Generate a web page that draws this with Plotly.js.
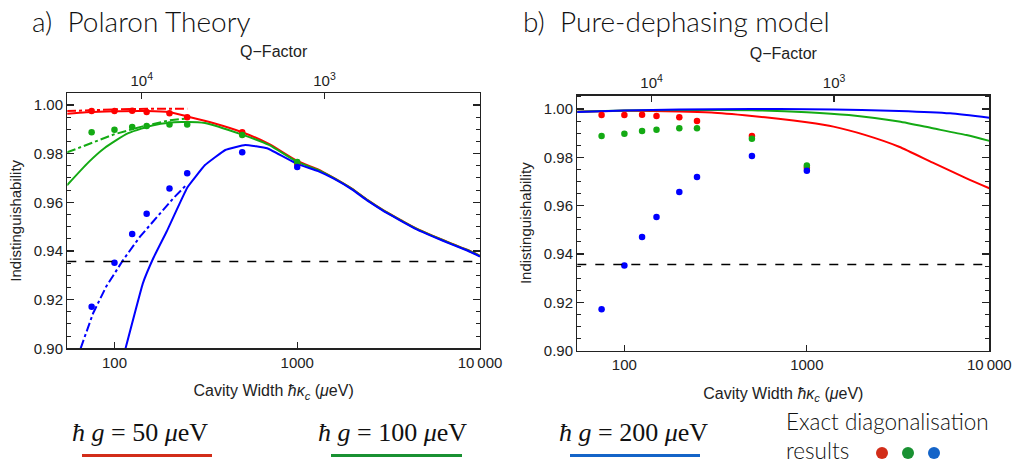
<!DOCTYPE html>
<html><head><meta charset="utf-8">
<script src="https://cdn.plot.ly/plotly-3.0.1.min.js"></script>
<style>html,body{margin:0;padding:0;background:#fff}#chart{width:1017px;height:465px}</style>
</head><body><div id="chart"></div>
<script>
// ---------- data ----------
const photonEnergy = 1.41e6;       // µeV ; Q = E / ħκ
const kappaMin = 55.2, kappaMax = 10000;
const threshold = 0.9357;

// exact diagonalisation results (both panels)
const exactKappa = [75, 100, 125, 150, 200, 250, 500, 1000];
const exact50  = [0.9975, 0.9975, 0.9976, 0.9971, 0.9966, 0.9950, 0.9888, 0.9757];
const exact100 = [0.9888, 0.9898, 0.9909, 0.9914, 0.9920, 0.9920, 0.9877, 0.9766];
const exact200 = [0.9171, 0.9352, 0.9470, 0.9553, 0.9657, 0.9719, 0.9806, 0.9745];

// a) polaron theory, solid
const polKappa50  = [55, 70, 100, 150, 200, 250, 350, 500, 700, 1000, 1300, 1585, 2000, 2420, 3000, 3690, 4500, 5620, 7000, 8570, 10000];
const pol50       = [0.9964, 0.9970, 0.9974, 0.9975, 0.9970, 0.9953, 0.9925, 0.9888, 0.9840, 0.9770, 0.9735, 0.9700, 0.9655, 0.9610, 0.9565, 0.9527, 0.9492, 0.9460, 0.9430, 0.9404, 0.9380];
const polKappa100 = [55, 72, 88, 119, 166, 233, 313, 500, 700, 1000, 1300, 1585, 2000, 2420, 3000, 3690, 4500, 5620, 7000, 8570, 10000];
const pol100      = [0.9670, 0.9764, 0.9822, 0.9884, 0.9918, 0.9930, 0.9926, 0.9878, 0.9836, 0.9766, 0.9733, 0.9699, 0.9654, 0.9609, 0.9564, 0.9526, 0.9491, 0.9459, 0.9429, 0.9403, 0.9379];
const polKappa200 = [115, 143, 163, 193, 250, 313, 404, 519, 684, 1000, 1300, 1585, 2000, 2420, 3000, 3690, 4500, 5620, 7000, 8570, 10000];
const pol200      = [0.9000, 0.9267, 0.9370, 0.9480, 0.9660, 0.9753, 0.9815, 0.9836, 0.9822, 0.9758, 0.9728, 0.9697, 0.9652, 0.9607, 0.9562, 0.9524, 0.9489, 0.9457, 0.9427, 0.9401, 0.9377];

// a) polaron theory, dash-dot (low-width branch)
const ddKappa50  = [55, 70, 100, 150, 200, 250];
const dd50       = [0.9975, 0.9979, 0.9982, 0.9984, 0.9984, 0.9984];
const ddKappa100 = [55, 72, 100, 141, 197, 250];
const dd100      = [0.9805, 0.9838, 0.9880, 0.9911, 0.9936, 0.9945];
const ddKappa200 = [65.3, 76.4, 90, 111.5, 138, 177, 210, 250];
const dd200      = [0.9000, 0.9144, 0.9253, 0.9363, 0.9459, 0.9555, 0.9617, 0.9675];

// b) pure-dephasing model
const pdKappa50  = [55, 100, 200, 300, 500, 700, 1000, 1400, 2100, 3200, 4900, 7500, 10000];
const pd50       = [0.9989, 0.9993, 0.9990, 0.9985, 0.9971, 0.9960, 0.9945, 0.9927, 0.9892, 0.9844, 0.9778, 0.9713, 0.9672];
const pdKappa100 = [55, 100, 200, 500, 1000, 1700, 3200, 4900, 7500, 10000];
const pd100      = [0.9989, 0.9994, 0.9996, 0.9995, 0.9987, 0.9975, 0.9948, 0.9920, 0.9892, 0.9868];
const pdKappa200 = [55, 100, 200, 500, 1000, 2000, 3200, 6100, 10000];
const pd200      = [0.9988, 0.9994, 0.9998, 1.0000, 0.9999, 0.9996, 0.9992, 0.9982, 0.9964];

const xTickVals = [100, 1000, 10000];
const xTickText = ['100', '1000', '10\u2009000'];
const qTickVals = [1e4, 1e3];
const qTickText = ['10<sup>4</sup>', '10<sup>3</sup>'];
const yTickVals = [0.90, 0.92, 0.94, 0.96, 0.98, 1.00];
const legendLabels = ['<i>ħ g</i> = 50 <i>μ</i>eV', '<i>ħ g</i> = 100 <i>μ</i>eV', '<i>ħ g</i> = 200 <i>μ</i>eV'];

// ---------- style ----------
const RED = 'rgb(255,0,0)', GREEN = 'rgb(20,170,20)', BLUE = 'rgb(0,0,255)';
const LRED = 'rgb(210,45,25)', LGREEN = 'rgb(25,145,50)', LBLUE = 'rgb(20,100,200)';
const W = 1017, H = 465;
const px = v => v / W, py = v => 1 - v / H;

function line(x, y, color, ax, ay, dash, shape, smoothing) {
  return {x, y, xaxis: ax, yaxis: ay, type: 'scatter', mode: 'lines',
    line: {color, width: 2, dash: dash || 'solid', shape: shape || 'spline', smoothing: smoothing || 0.6},
    hoverinfo: 'skip', showlegend: false};
}
function pts(y, color, ax, ay) {
  return {x: exactKappa, y, xaxis: ax, yaxis: ay, type: 'scatter', mode: 'markers',
    marker: {color, size: 6.5}, hoverinfo: 'skip', showlegend: false};
}

const traces = [
  line(polKappa50, pol50, RED, 'x', 'y'),
  line(polKappa100, pol100, GREEN, 'x', 'y'),
  line(polKappa200, pol200, BLUE, 'x', 'y', 'solid', 'spline', 0.25),
  line(ddKappa50, dd50, RED, 'x', 'y', 'dashdot', 'linear'),
  line(ddKappa100, dd100, GREEN, 'x', 'y', 'dashdot', 'linear'),
  line(ddKappa200, dd200, BLUE, 'x', 'y', 'dashdot', 'linear'),
  pts(exact50, RED, 'x', 'y'), pts(exact100, GREEN, 'x', 'y'), pts(exact200, BLUE, 'x', 'y'),
  line(pdKappa50, pd50, RED, 'x3', 'y2'),
  line(pdKappa100, pd100, GREEN, 'x3', 'y2'),
  line(pdKappa200, pd200, BLUE, 'x3', 'y2'),
  pts(exact50, RED, 'x3', 'y2'), pts(exact100, GREEN, 'x3', 'y2'), pts(exact200, BLUE, 'x3', 'y2'),
  {x: [], y: [], xaxis: 'x2', yaxis: 'y', type: 'scatter', showlegend: false},
  {x: [], y: [], xaxis: 'x4', yaxis: 'y2', type: 'scatter', showlegend: false}
];

const tickFont = {family: 'Liberation Sans', size: 15, color: '#222'};
const xTitleFont = {family: 'Liberation Sans', size: 16, color: '#222'};
const yTitleFont = {family: 'Liberation Sans', size: 15, color: '#222'};
const axLine = {showline: true, linecolor: '#222', linewidth: 1.3, showgrid: false, zeroline: false,
  ticks: 'inside', tickcolor: '#222', tickwidth: 1.2, tickfont: tickFont};

function bottomX(domain) {
  return Object.assign({}, axLine, {type: 'log', domain,
    range: [Math.log10(kappaMin), Math.log10(kappaMax)], tickvals: xTickVals, ticktext: xTickText, ticklen: 6,
    title: {text: 'Cavity Width <i>ħκ</i><sub><i>c</i></sub> (<i>μ</i>eV)', font: xTitleFont, standoff: 15}});
}
function topX(over, anchor) {
  return Object.assign({}, axLine, {type: 'log', overlaying: over, anchor, side: 'top',
    range: [Math.log10(photonEnergy / kappaMin), Math.log10(photonEnergy / kappaMax)],
    tickvals: qTickVals, ticktext: qTickText, ticklen: 6,
    title: {text: 'Q\u2212Factor', font: xTitleFont, standoff: 8}});
}
function leftY(domain, top) {
  return Object.assign({}, axLine, {domain, range: [0.90, top], tickvals: yTickVals, tickformat: '.2f',
    ticklen: 7, mirror: 'ticks', minor: {dtick: 0.005, ticks: 'inside', ticklen: 4, tickcolor: '#222', tickwidth: 1, showgrid: false},
    title: {text: 'Indistinguishability', font: yTitleFont, standoff: 8}});
}

const headFont = {family: 'Lato', size: 28, color: '#111', weight: 300};
const legFont = {family: 'Liberation Serif', size: 26, color: '#111'};
const exFont = {family: 'Lato', size: 22.5, color: '#111', weight: 300};

const layout = {
  width: W, height: H, margin: {l: 0, r: 0, t: 0, b: 0},
  paper_bgcolor: '#fff', plot_bgcolor: '#fff', showlegend: false,
  xaxis: bottomX([px(67.3), px(480)]),
  xaxis2: topX('x', 'y'),
  xaxis3: Object.assign(bottomX([px(577.3), px(989.3)]), {anchor: 'y2'}),
  xaxis4: topX('x3', 'y2'),
  yaxis: Object.assign(leftY([py(348.3), py(93.3)], 1.0048), {anchor: 'x'}),
  yaxis2: Object.assign(leftY([py(350.7), py(95.7)], 1.0055), {anchor: 'x3'}),
  shapes: [
    {type: 'line', xref: 'x domain', yref: 'y', x0: 0, x1: 1, y0: threshold, y1: threshold, line: {color: '#000', width: 1.5, dash: 'dash'}},
    {type: 'line', xref: 'x3 domain', yref: 'y2', x0: 0, x1: 1, y0: threshold, y1: threshold, line: {color: '#000', width: 1.5, dash: 'dash'}},
    {type: 'line', xref: 'paper', yref: 'paper', x0: px(82), x1: px(212), y0: py(455.5), y1: py(455.5), line: {color: LRED, width: 3}},
    {type: 'line', xref: 'paper', yref: 'paper', x0: px(331), x1: px(462), y0: py(455.5), y1: py(455.5), line: {color: LGREEN, width: 3}},
    {type: 'line', xref: 'paper', yref: 'paper', x0: px(570), x1: px(700), y0: py(455.5), y1: py(455.5), line: {color: LBLUE, width: 3}},
    {type: 'circle', xref: 'paper', yref: 'paper', x0: px(876), x1: px(888), y0: py(459), y1: py(447), fillcolor: LRED, line: {width: 0}},
    {type: 'circle', xref: 'paper', yref: 'paper', x0: px(902), x1: px(914), y0: py(459), y1: py(447), fillcolor: LGREEN, line: {width: 0}},
    {type: 'circle', xref: 'paper', yref: 'paper', x0: px(928), x1: px(940), y0: py(459), y1: py(447), fillcolor: LBLUE, line: {width: 0}}
  ],
  annotations: [
    {text: 'a)\u00a0\u00a0Polaron Theory', xref: 'paper', yref: 'paper', x: px(30), y: py(21), xanchor: 'left', yanchor: 'middle', showarrow: false, font: headFont},
    {text: 'b)\u00a0\u00a0Pure-dephasing model', xref: 'paper', yref: 'paper', x: px(521), y: py(21), xanchor: 'left', yanchor: 'middle', showarrow: false, font: headFont},
    {text: legendLabels[0], xref: 'paper', yref: 'paper', x: px(140), y: py(432), xanchor: 'center', yanchor: 'middle', showarrow: false, font: legFont},
    {text: legendLabels[1], xref: 'paper', yref: 'paper', x: px(392), y: py(432), xanchor: 'center', yanchor: 'middle', showarrow: false, font: legFont},
    {text: legendLabels[2], xref: 'paper', yref: 'paper', x: px(633), y: py(432), xanchor: 'center', yanchor: 'middle', showarrow: false, font: legFont},
    {text: 'Exact diagonalisation<br>results', xref: 'paper', yref: 'paper', x: px(785), y: 0, xanchor: 'left', yanchor: 'bottom', align: 'left', borderpad: 0, showarrow: false, font: exFont}
  ]
};

Plotly.newPlot('chart', traces, layout, {staticPlot: true, displayModeBar: false});
</script>
</body></html>
